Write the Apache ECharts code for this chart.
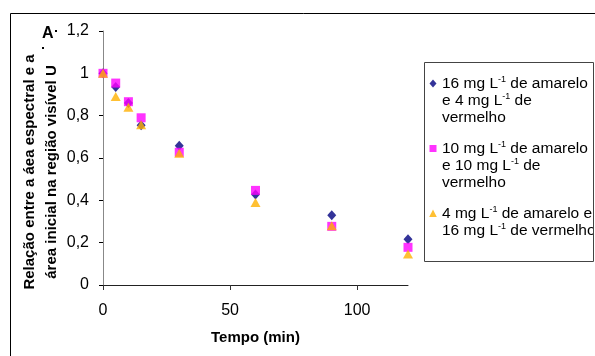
<!DOCTYPE html>
<html>
<head>
<meta charset="utf-8">
<script src="https://cdn.jsdelivr.net/npm/echarts@6/dist/echarts.min.js"></script>
<style>
  html, body { margin: 0; padding: 0; background: #fff; }
  #chart { width: 595px; height: 356px; }
</style>
</head>
<body>
<div id="chart"></div>
<script>
// data
const tempo = [0, 5, 10, 15, 30, 60, 90, 120]
const serie16amarelo = [1.0, 0.935, 0.86, 0.755, 0.658, 0.428, 0.33, 0.216]
const serie10amarelo = [1.0, 0.954, 0.866, 0.79, 0.627, 0.447, 0.277, 0.178]
const serie4amarelo = [1.0, 0.891, 0.84, 0.757, 0.622, 0.39, 0.28, 0.146]

const seriesNames = [
  '16 mg L-1 de amarelo e 4 mg L-1 de vermelho',
  '10 mg L-1 de amarelo e 10 mg L-1 de vermelho',
  '4 mg L-1 de amarelo e 16 mg L-1 de vermelho'
]
const legendLabels = [
  '16 mg L{s|-1} de amarelo\ne 4 mg L{s|-1} de\nvermelho',
  '10 mg L{s|-1} de amarelo\ne 10 mg L{s|-1} de\nvermelho',
  '4 mg L{s|-1} de amarelo e\n16 mg L{s|-1} de vermelho\n '
]
const xTicks = [0, 50, 100]
const yTickLabels = ['0', '0,2', '0,4', '0,6', '0,8', '1', '1,2']

const FONT = 'Arial, "Liberation Sans", sans-serif'

const chart = echarts.init(document.getElementById('chart'))

const pairs = (ys) => tempo.map((t, i) => [t, ys[i]])

// legend icons: the extra moveTo points stretch the box so the mark sits on the first text line
const icons = [
  'path://M0,0 M8,51 M4,4.5 L7.5,8.5 L4,12.5 L0.5,8.5 Z',
  'path://M0,0 M8,51 M0.5,5 L7.5,5 L7.5,12 L0.5,12 Z',
  'path://M0,0 M8,51 M4,4.5 L7.8,12 L0.2,12 Z'
]

const option = {
  animation: false,
  title: {
    text: 'A',
    left: 42,
    top: 26,
    padding: 0,
    textStyle: { fontFamily: FONT, fontSize: 16, fontWeight: 'bold', color: '#000' }
  },
  grid: {
    left: 103,
    top: 31,
    right: 187,
    bottom: 71,
    containLabel: false,
    outerBoundsMode: 'none'
  },
  legend: {
    orient: 'vertical',
    left: 424,
    top: 63,
    padding: [12, 0, 6, 5],
    itemGap: 14,
    itemWidth: 8,
    itemHeight: 51,
    symbolKeepAspect: true,
    data: seriesNames.map((n, i) => ({ name: n, icon: icons[i] })),
    formatter: (name) => legendLabels[seriesNames.indexOf(name)],
    textStyle: {
      fontFamily: FONT,
      fontSize: 15.5,
      lineHeight: 17,
      color: '#000',
      rich: {
        s: { fontFamily: FONT, fontSize: 9, lineHeight: 7, verticalAlign: 'top', color: '#000' }
      }
    }
  },
  xAxis: {
    type: 'value',
    min: 0,
    max: 120,
    interval: 50,
    name: 'Tempo (min)',
    nameLocation: 'middle',
    nameGap: 45,
    nameMoveOverlap: false,
    nameTextStyle: { fontFamily: FONT, fontSize: 15, fontWeight: 'bold', color: '#000' },
    splitLine: { show: false },
    axisLine: { lineStyle: { color: '#222', width: 1 } },
    axisTick: { show: true, length: 5, customValues: xTicks, lineStyle: { color: '#333' } },
    axisLabel: {
      customValues: xTicks,
      margin: 18,
      fontFamily: FONT,
      fontSize: 16,
      color: '#000'
    }
  },
  yAxis: {
    type: 'value',
    min: 0,
    max: 1.2,
    interval: 0.2,
    name: 'Relação entre a áea espectral e a\nárea inicial na região visível U',
    nameLocation: 'middle',
    nameRotate: 90,
    nameGap: 40,
    nameMoveOverlap: false,
    nameTextStyle: {
      fontFamily: FONT,
      fontSize: 15,
      fontWeight: 'bold',
      lineHeight: 22,
      color: '#000',
      padding: [0, 28, 0, 0]
    },
    splitLine: { show: false },
    axisLine: { show: true, lineStyle: { color: '#888', width: 1 } },
    axisTick: { show: true, length: 4, lineStyle: { color: '#000' } },
    axisLabel: {
      margin: 14,
      fontFamily: FONT,
      fontSize: 16,
      color: '#000',
      formatter: (v) => yTickLabels[Math.round(v / 0.2)]
    }
  },
  series: [
    {
      name: seriesNames[0],
      type: 'scatter',
      symbol: 'diamond',
      symbolSize: [9, 10],
      itemStyle: { color: '#000080' },
      data: pairs(serie16amarelo)
    },
    {
      name: seriesNames[1],
      type: 'scatter',
      symbol: 'rect',
      symbolSize: 9,
      itemStyle: { color: '#FF00FF' },
      data: pairs(serie10amarelo)
    },
    {
      name: seriesNames[2],
      type: 'scatter',
      symbol: 'triangle',
      symbolSize: [10, 9],
      itemStyle: { color: '#FFB000' },
      data: pairs(serie4amarelo)
    }
  ],
  graphic: [
    {
      type: 'rect',
      shape: { x: 10.5, y: 13.5, width: 700, height: 400 },
      style: { fill: 'none', stroke: '#000', lineWidth: 1 },
      silent: true
    },
    // clip legend text that runs past the box edge
    {
      type: 'rect',
      z: 100,
      shape: { x: 594, y: 63, width: 10, height: 198 },
      style: { fill: '#fff' },
      silent: true
    },
    {
      type: 'rect',
      z: 101,
      shape: { x: 424.5, y: 62.5, width: 169, height: 199 },
      style: { fill: 'none', stroke: '#444', lineWidth: 1 },
      silent: true
    },
    { type: 'rect', shape: { x: 55, y: 30, width: 2, height: 2 }, style: { fill: '#000' }, silent: true },
    { type: 'rect', shape: { x: 42, y: 47, width: 2, height: 2 }, style: { fill: '#000' }, silent: true }
  ]
}

chart.setOption(option)
</script>
</body>
</html>
